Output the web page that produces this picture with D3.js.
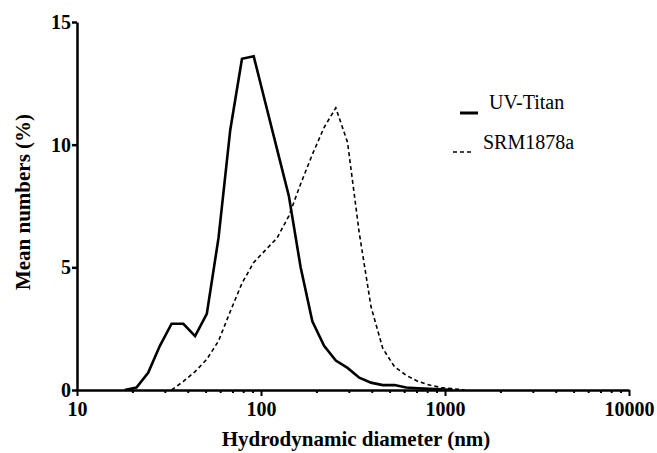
<!DOCTYPE html>
<html>
<head>
<meta charset="utf-8">
<script src="https://cdn.jsdelivr.net/npm/d3@7"></script>
<style>
  body { margin: 0; background: #fff; }
  svg text { font-family: "Liberation Serif", "Times New Roman", serif; fill: #000; }
</style>
</head>
<body>
<div id="chart"></div>
<script>
// size bins (nm) of the DLS distribution
var diameters = [18.17, 21.04, 24.36, 28.21, 32.67, 37.84, 43.82, 50.75, 58.77, 68.06,
                 78.82, 91.28, 105.7, 122.4, 141.8, 164.2, 190.1, 220.2, 255, 295.3,
                 342, 396.1, 458.7, 531.2, 615.1, 712.4, 825, 955.4, 1106, 1281];

// mean numbers (%) per bin, null = not drawn
var uvTitan = [0, 0.1, 0.7, 1.8, 2.7, 2.7, 2.2, 3.1, 6.2, 10.6,
               13.5, 13.6, 11.7, 9.8, 7.9, 5.0, 2.8, 1.8, 1.2, 0.9,
               0.5, 0.3, 0.2, 0.2, 0.1, 0.07, 0.05, 0.03, 0, null];
var srm1878a = [null, null, null, null, 0, 0.35, 0.75, 1.25, 2.0, 3.2,
                4.35, 5.2, 5.7, 6.2, 7.1, 8.4, 9.6, 10.7, 11.5, 10.1,
                6.4, 3.4, 1.7, 0.95, 0.6, 0.35, 0.2, 0.1, 0.05, 0];

var yTicks = [0, 5, 10, 15];
var xMajor = [10, 100, 1000, 10000];

var width = 657, height = 453;
var margin = {left: 77, right: 28, top: 22, bottom: 63};

var svg = d3.select("#chart")
    .append("svg")
    .attr("width", width)
    .attr("height", height);

var x = d3.scaleLog()
    .domain([10, 10000])
    .range([margin.left, width - margin.right]);

var y = d3.scaleLinear()
    .domain([0, 15])
    .range([height - margin.bottom, margin.top]);

//all decade ticks, labels only on powers of ten
var xTickVals = [];
xMajor.forEach(function(m, i) {
    if (i == xMajor.length - 1) { xTickVals.push(m); return; }
    for (var k = 1; k < 10; k++) xTickVals.push(m * k);
});

var xAxis = svg.append("g")
    .attr("transform", "translate(0," + y(0) + ")")
    .call(d3.axisBottom(x)
        .tickValues(xTickVals)
        .tickSize(6)
        .tickSizeOuter(0)
        .tickPadding(6)
        .tickFormat(function(d) { return xMajor.indexOf(d) >= 0 ? d : ""; }));

xAxis.selectAll(".tick line")
    .attr("y2", function(d) { return xMajor.indexOf(d) >= 0 ? 6 : 3; })
    .attr("stroke-width", 2);

var yAxis = svg.append("g")
    .attr("transform", "translate(" + margin.left + ",0)")
    .call(d3.axisLeft(y)
        .tickValues(yTicks)
        .tickSize(5)
        .tickSizeOuter(0)
        .tickPadding(1));

yAxis.selectAll(".tick line").attr("stroke-width", 2.5);

svg.selectAll(".domain").attr("stroke-width", 2.5);
svg.selectAll(".tick text")
    .style("font-size", "20px")
    .style("font-weight", "bold")
    .style("font-family", "'Liberation Serif', serif");

//lines
var line = d3.line()
    .defined(function(d) { return d[1] != null; })
    .x(function(d) { return x(d[0]); })
    .y(function(d) { return y(d[1]); });

svg.append("path")
    .datum(diameters.map(function(d, i) { return [d, srm1878a[i]]; }))
    .attr("d", line)
    .attr("fill", "none")
    .attr("stroke", "#000")
    .attr("stroke-width", 1.6)
    .attr("stroke-dasharray", "4,3");

svg.append("path")
    .datum(diameters.map(function(d, i) { return [d, uvTitan[i]]; }))
    .attr("d", line)
    .attr("fill", "none")
    .attr("stroke", "#000")
    .attr("stroke-width", 2.6)
    .attr("stroke-linejoin", "miter");

//axis titles
svg.append("text")
    .attr("x", 356)
    .attr("y", 446)
    .attr("text-anchor", "middle")
    .style("font-size", "21px")
    .style("font-weight", "bold")
    .text("Hydrodynamic diameter (nm)");

svg.append("text")
    .attr("transform", "translate(30,202) rotate(-90)")
    .attr("text-anchor", "middle")
    .style("font-size", "21px")
    .style("font-weight", "bold")
    .text("Mean numbers (%)");

//legend
svg.append("line")
    .attr("x1", 460).attr("x2", 478)
    .attr("y1", 113).attr("y2", 113)
    .attr("stroke", "#000")
    .attr("stroke-width", 3);
svg.append("text")
    .attr("x", 489).attr("y", 109)
    .style("font-size", "20px")
    .text("UV-Titan");

svg.append("line")
    .attr("x1", 453).attr("x2", 472)
    .attr("y1", 152).attr("y2", 152)
    .attr("stroke", "#000")
    .attr("stroke-width", 1.6)
    .attr("stroke-dasharray", "4,3");
svg.append("text")
    .attr("x", 483).attr("y", 149)
    .style("font-size", "20px")
    .text("SRM1878a");
</script>
</body>
</html>
